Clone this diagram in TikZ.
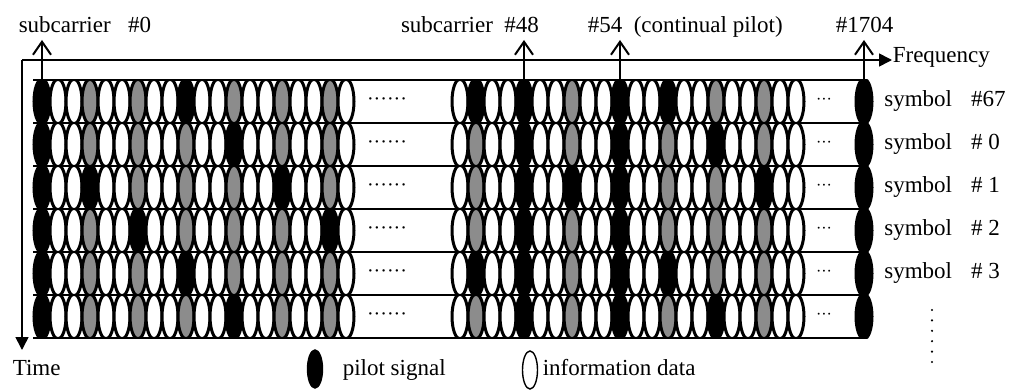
\documentclass[tikz,border=0pt]{standalone}
\usepackage{fontspec}
\setmainfont{Liberation Serif}
\usetikzlibrary{arrows.meta,shapes.geometric,positioning}

\begin{document}
\begin{tikzpicture}[x=1pt,y=-1pt,line width=1.6pt,>={Triangle[length=13pt,width=13pt]},
  txt/.style={font=\fontsize{23}{27}\selectfont,inner sep=0pt},
  cell/.style={ellipse,draw,line width=3pt,minimum width=16pt,minimum height=45pt,inner sep=0pt},
  info/.style={cell,fill=white},
  spil/.style={cell,fill=black!45},
  pilot/.style={cell,fill=black},
  legcell/.style={line width=1.4pt,minimum width=15pt,minimum height=38pt},
  subarr/.style={-{Straight Barb[length=13pt,width=18pt]},line width=2pt},
  gapdots/.style={inner sep=0pt,font=\fontsize{20}{20}\selectfont}]
  \useasboundingbox (0,0) rectangle (1015,390);
  % axes
  \coordinate (o) at (22,60);
  \coordinate (t) at (22,350);
  \node[txt,anchor=base west] (freq) at (892,63) {Frequency};
  \node[txt,anchor=base west] (time) at (12,375) {Time};
  \draw[->] (o) -- (o -| freq.west);
  \draw[->] (o) -- (t);
  % subcarriers: k=0..19, 44..65 and 1704, one row per OFDM symbol
  \foreach \l [count=\r from 0] in {67,0,1,2,3,4} {
    \pgfmathtruncatemacro\pp{3*mod(\l,4)}
    \pgfmathsetmacro\y{101.5+43*\r}
    \begin{scope}
      \clip (20,{\y-21.5}) rectangle (880,{\y+21.5});
      \foreach \a/\b in {0/19,44/65,1704/1704} {
        \foreach \k in {\a,...,\b} {
          \ifnum\k<20 \pgfmathsetmacro\x{42+16*\k}%
          \else\ifnum\k<100 \pgfmathsetmacro\x{460+16*(\k-44)}%
          \else \def\x{864}\fi\fi
          \pgfmathtruncatemacro\kind{(\k==0 || \k==48 || \k==54 || \k==1704 || mod(\k,12)==\pp) ? 2 : (mod(\k,3)==0 ? 1 : 0)}
          \ifcase\kind \def\cst{info}\or \def\cst{spil}\or \def\cst{pilot}\fi
          \node[\cst] (c-\r-\k) at (\x,\y) {};
        }
      }
    \end{scope}
    \node[gapdots] (gl-\r) at (387,\y) {······};
    \node[gapdots,font=\fontsize{16}{16}\selectfont] (gr-\r) at (824,\y) {···};
  }
  % row lines
  \foreach \r in {0,...,6} \draw[line width=2pt] (33,{80+43*\r}) -- (864,{80+43*\r});
  % continual pilot markers
  \coordinate (g0) at (0,80);
  \coordinate (top) at (0,40);
  \foreach \k in {0,48,54,1704} \draw[subarr] (c-0-\k |- g0) -- (c-0-\k |- top);
  \node[txt,anchor=base west] (l0) at (18,33) {subcarrier~~~\#0};
  \node[txt,anchor=base] (l48) at (470,33) {subcarrier~~\#48};
  \node[txt,anchor=base west] (l54) at (587,33) {\#54~~(continual pilot)};
  \node[txt,anchor=base west] (l1704) at (835,33) {\#1704};
  % symbol numbers
  \foreach \r/\s in {0/\#67,1/\#~0,2/\#~1,3/\#~2,4/\#~3}
    \node[txt,right=10pt of c-\r-1704] (sym-\r) {symbol\hspace{19pt}\s};
  \foreach \d in {0,...,5} \fill (932,{310+10.4*\d}) circle (1.2pt);
  % legend
  \node[pilot,legcell] (lp) at (315,369) {};
  \node[txt,anchor=base west] (lpt) at (342,375) {pilot signal};
  \node[info,legcell] (li) at (530,370) {};
  \node[txt,anchor=base west] (lit) at (542,375) {information data};
\end{tikzpicture}
\end{document}
